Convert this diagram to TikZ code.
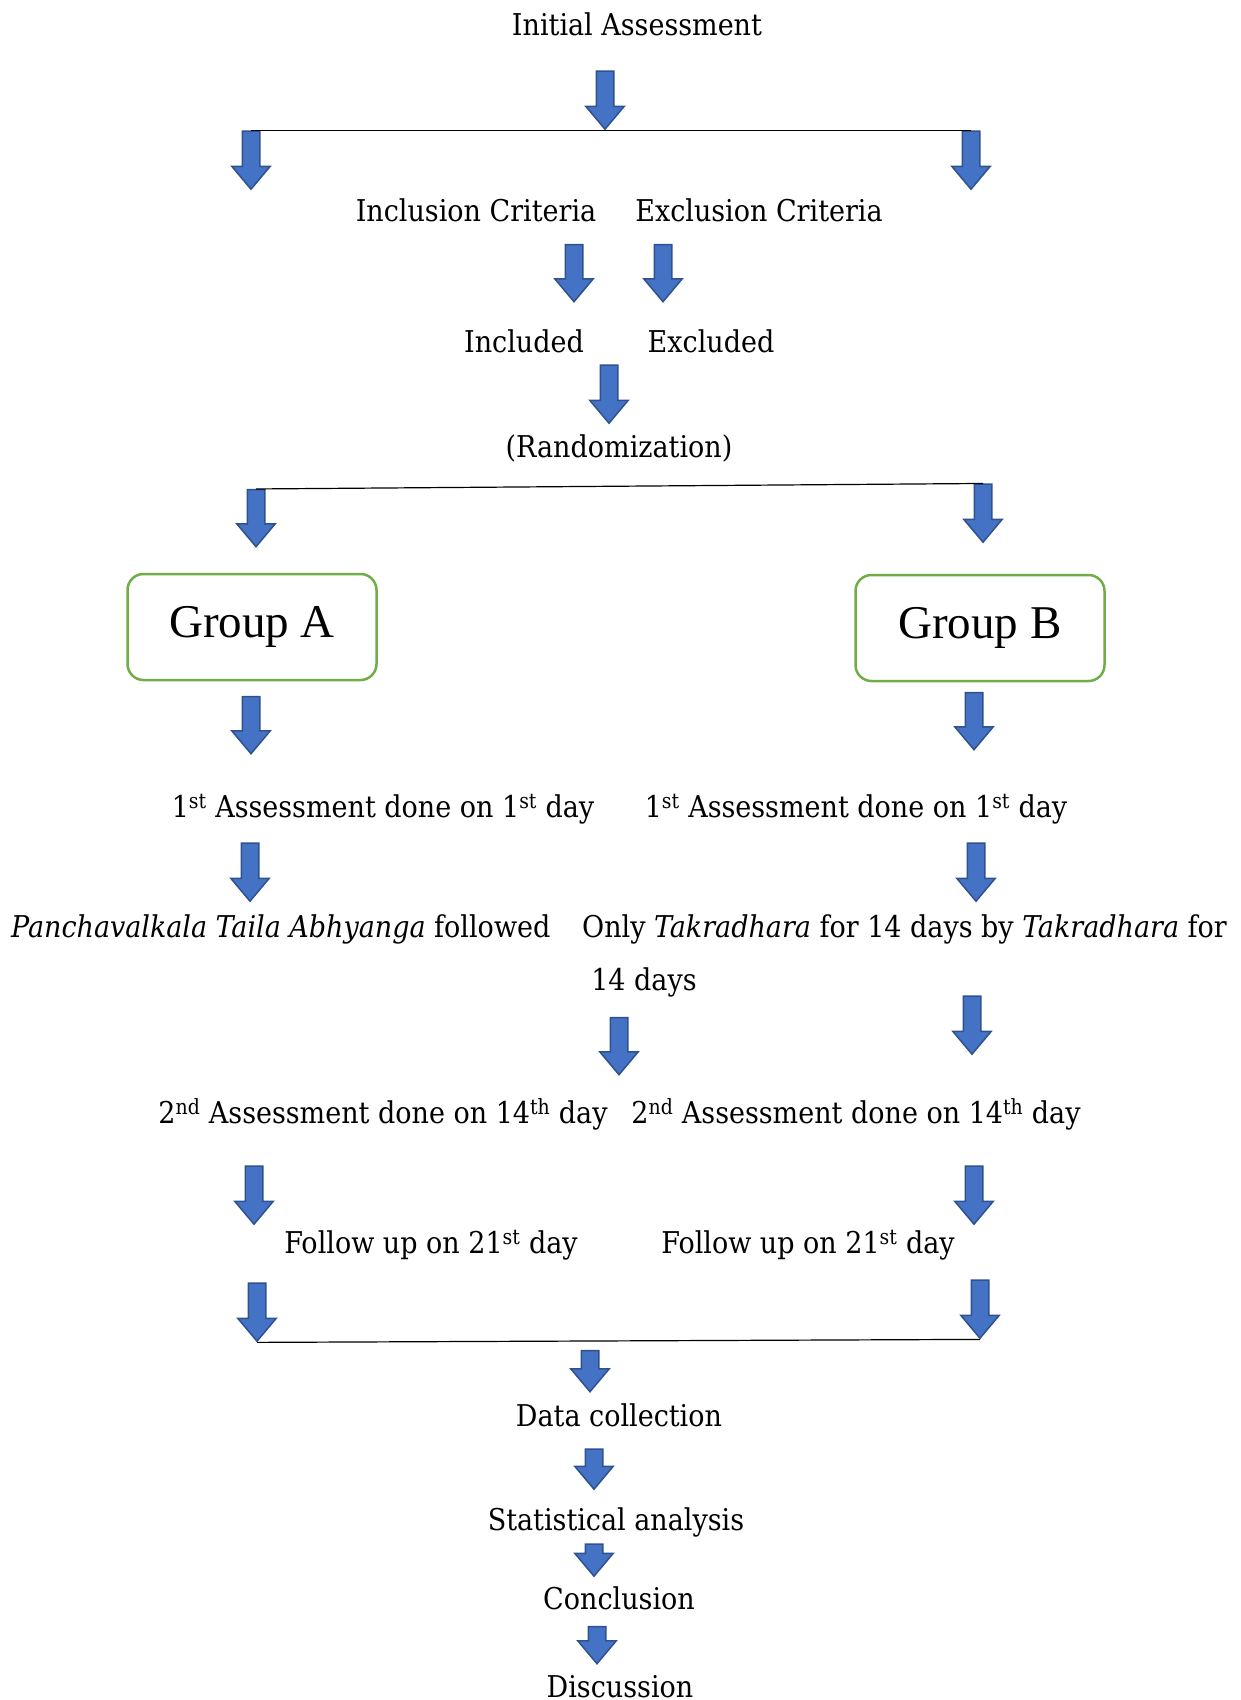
\documentclass[tikz,border=0pt]{standalone}
\usepackage{fontspec}
\setmainfont{DejaVu Serif Condensed}
\newfontfamily\grpfont{Liberation Serif}
\usepackage{tikz}
\usetikzlibrary{shapes.arrows, positioning}
\definecolor{arrowblue}{HTML}{4472C4}
\definecolor{arrowedge}{HTML}{2F528F}
\definecolor{boxgreen}{HTML}{70AD47}
\tikzstyle{downarrow} = [single arrow, shape border rotate=270, draw=arrowedge, fill=arrowblue, line width=1.5pt, inner sep=8pt, single arrow head extend=10.5pt, single arrow tip angle=80]
\tikzstyle{stage} = [inner sep=0pt, font=\fontsize{30}{36}\selectfont]
\tikzstyle{group} = [rectangle, rounded corners=16pt, draw=boxgreen, line width=2.5pt, minimum width=249pt, minimum height=106pt, font=\grpfont\fontsize{47}{50}\selectfont]

\begin{document}
\begin{tikzpicture}[x=1pt, y=-1pt]
    \useasboundingbox (0,0) rectangle (1240,1700);

    % Top: assessment and criteria
    \node (initial) [stage] at (637,24) {Initial Assessment};
    \node (a0) [downarrow, minimum height=58pt] at (605,95) {};
    \node (splitL) [downarrow, minimum height=58pt] at (251,155) {};
    \node (splitR) [downarrow, minimum height=58pt] at (971,155) {};
    \node (incl) [stage] at (476,210) {Inclusion Criteria};
    \node (excl) [stage] at (759,210) {Exclusion Criteria};
    \node (a1) [downarrow, minimum height=57pt] at (574,268) {};
    \node (a2) [downarrow, minimum height=57pt] at (663,268) {};
    \node (included) [stage] at (524,341) {Included};
    \node (excluded) [stage] at (711,341) {Excluded};
    \node (a3) [downarrow, minimum height=58pt] at (609,389) {};
    \node (random) [stage] at (619,448) {(Randomization)};
    \node (randL) [downarrow, minimum height=57pt] at (256,513) {};
    \node (randR) [downarrow, minimum height=58pt] at (983,508) {};

    % Groups
    \node (groupA) [group] at (252,627) {Group A};
    \node (groupB) [group] at (980,628) {Group B};
    \node (a4) [downarrow, minimum height=57pt] at (251,720) {};
    \node (a5) [downarrow, minimum height=57pt] at (974,716) {};
    \node (firstA) [stage] at (383,809) {1\textsuperscript{st} Assessment done on 1\textsuperscript{st} day};
    \node (firstB) [stage] at (856,809) {1\textsuperscript{st} Assessment done on 1\textsuperscript{st} day};
    \node (a6) [downarrow, minimum height=58pt] at (250,867) {};
    \node (a7) [downarrow, minimum height=58pt] at (976,867) {};
    \node (treatA) [stage, anchor=west] at (11,929) {\textit{Panchavalkala Taila Abhyanga} followed};
    \node (treatB) [stage, anchor=east] at (1227,929) {Only \textit{Takradhara} for 14 days by \textit{Takradhara} for};
    \node (days) [stage] at (644,982) {14 days};
    \node (a8) [downarrow, minimum height=57pt] at (619,1041) {};
    \node (a9) [downarrow, minimum height=58pt] at (972,1020) {};
    \node (secondA) [stage] at (383,1114) {2\textsuperscript{nd} Assessment done on 14\textsuperscript{th} day};
    \node (secondB) [stage] at (856,1114) {2\textsuperscript{nd} Assessment done on 14\textsuperscript{th} day};
    \node (a10) [downarrow, minimum height=58pt] at (254,1190) {};
    \node (a11) [downarrow, minimum height=58pt] at (974,1190) {};
    \node (followA) [stage] at (431,1245) {Follow up on 21\textsuperscript{st} day};
    \node (followB) [stage] at (808,1245) {Follow up on 21\textsuperscript{st} day};
    \node (joinL) [downarrow, minimum height=58pt] at (257,1307) {};
    \node (joinR) [downarrow, minimum height=58pt] at (980,1304) {};

    % Bottom chain
    \node (a12) [downarrow, minimum height=41pt] at (590,1366) {};
    \node (data) [stage] at (619,1415) {Data collection};
    \node (a13) [downarrow, minimum height=40pt] at (594,1464) {};
    \node (stats) [stage] at (616,1522) {Statistical analysis};
    \node (a14) [downarrow, minimum height=32pt] at (594,1555) {};
    \node (concl) [stage] at (619,1598) {Conclusion};
    \node (a15) [downarrow, minimum height=37pt] at (597,1640) {};
    \node (discuss) [stage] at (620,1687) {Discussion};

    % Lines
    \draw[line width=1.2pt] (splitL.tail) -- (splitR.tail);
    \draw[line width=1.2pt] (randL.tail) -- (randR.tail);
    \draw[line width=1.2pt] (joinL.tip) -- (joinR.tip);
\end{tikzpicture}
\end{document}
